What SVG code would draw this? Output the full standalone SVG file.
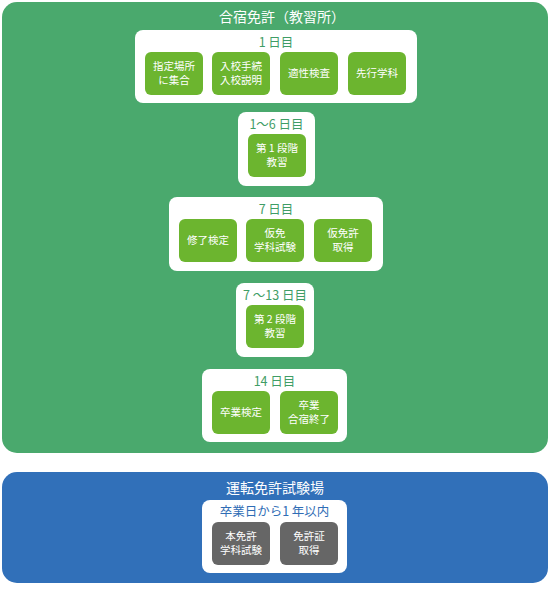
<svg xmlns="http://www.w3.org/2000/svg" width="550" height="600" viewBox="0 0 550 600">
<style>
text{font-family:"Noto Sans CJK JP","Noto Sans",sans-serif;text-anchor:middle}
.title{fill:#fff;font-size:14px}
.panel{fill:#fff}
.gl{fill:#3f9d66;font-size:12.5px}
.bl{fill:#2f6db5;font-size:12.5px}
.g{fill:#6cb52f}
.k{fill:#666}
.t{fill:#fff;font-size:10.5px}
</style>
<g id="school">
<rect x="2" y="2" width="546" height="451" rx="15" fill="#4aa96d"/>
<text class="title" x="282" y="22">合宿免許（教習所）</text>
</g>
<g id="day1">
<rect class="panel" x="135" y="30" width="282" height="73" rx="8"/>
<text class="gl" x="276" y="47">1 日目</text>
</g>
<g id="n-gather"><rect class="g" x="145" y="52" width="58" height="43" rx="6"/><text class="t" x="174" y="70">指定場所</text><text class="t" x="174" y="84">に集合</text></g>
<g id="n-entry"><rect class="g" x="212" y="52" width="58" height="43" rx="6"/><text class="t" x="241" y="70">入校手続</text><text class="t" x="241" y="84">入校説明</text></g>
<g id="n-aptitude"><rect class="g" x="280" y="52" width="58" height="43" rx="6"/><text class="t" x="309" y="77">適性検査</text></g>
<g id="n-prelecture"><rect class="g" x="348" y="52" width="58" height="43" rx="6"/><text class="t" x="377" y="77">先行学科</text></g>
<g id="day1-6">
<rect class="panel" x="238" y="112" width="77" height="74" rx="8"/>
<text class="gl" x="276.5" y="129">1～6 日目</text>
</g>
<g id="n-stage1"><rect class="g" x="248" y="134" width="58" height="43" rx="6"/><text class="t" x="277" y="152">第 1 段階</text><text class="t" x="277" y="166">教習</text></g>
<g id="day7">
<rect class="panel" x="169" y="197" width="214" height="74" rx="8"/>
<text class="gl" x="276" y="214">7 日目</text>
</g>
<g id="n-completion"><rect class="g" x="179" y="219" width="58" height="43" rx="6"/><text class="t" x="208" y="244">修了検定</text></g>
<g id="n-provexam"><rect class="g" x="246" y="219" width="58" height="43" rx="6"/><text class="t" x="275" y="237">仮免</text><text class="t" x="275" y="251">学科試験</text></g>
<g id="n-provlicense"><rect class="g" x="314" y="219" width="58" height="43" rx="6"/><text class="t" x="343" y="237">仮免許</text><text class="t" x="343" y="251">取得</text></g>
<g id="day7-13">
<rect class="panel" x="236" y="283" width="78" height="74" rx="8"/>
<text class="gl" x="275" y="300">7 ～13 日目</text>
</g>
<g id="n-stage2"><rect class="g" x="246" y="305" width="58" height="43" rx="6"/><text class="t" x="275" y="323">第 2 段階</text><text class="t" x="275" y="337">教習</text></g>
<g id="day14">
<rect class="panel" x="202" y="369" width="145" height="73" rx="8"/>
<text class="gl" x="274.5" y="386">14 日目</text>
</g>
<g id="n-gradexam"><rect class="g" x="212" y="391" width="58" height="43" rx="6"/><text class="t" x="241" y="416">卒業検定</text></g>
<g id="n-graduate"><rect class="g" x="280" y="391" width="58" height="43" rx="6"/><text class="t" x="309" y="409">卒業</text><text class="t" x="309" y="423">合宿終了</text></g>
<g id="testcenter">
<rect x="2" y="472" width="546" height="111" rx="15" fill="#3170b9"/>
<text class="title" x="275" y="493">運転免許試験場</text>
</g>
<g id="within1year">
<rect class="panel" x="202" y="500" width="145" height="73" rx="8"/>
<text class="bl" x="274.5" y="516">卒業日から1 年以内</text>
</g>
<g id="n-finalexam"><rect class="k" x="212" y="522" width="58" height="43" rx="6"/><text class="t" x="241" y="540">本免許</text><text class="t" x="241" y="554">学科試験</text></g>
<g id="n-license"><rect class="k" x="280" y="522" width="58" height="43" rx="6"/><text class="t" x="309" y="540">免許証</text><text class="t" x="309" y="554">取得</text></g>
<g id="connectors"/>
</svg>
